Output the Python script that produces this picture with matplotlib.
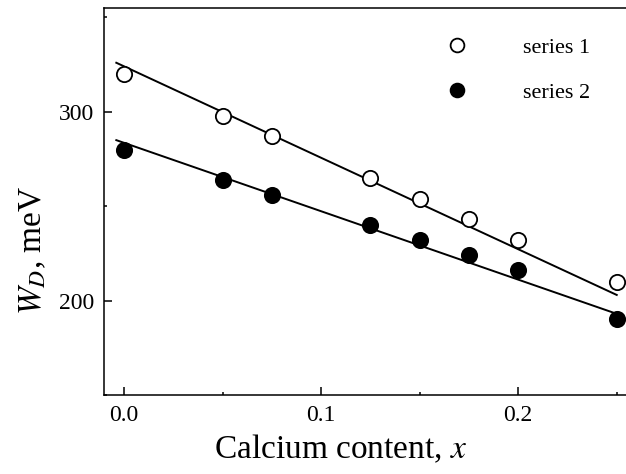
import numpy as np
import matplotlib
matplotlib.use("Agg")
import matplotlib.pyplot as plt
from matplotlib.ticker import MultipleLocator

# calcium content x
x = [0.0, 0.05, 0.075, 0.125, 0.15, 0.175, 0.2, 0.25]
# W_D, meV
series1 = [320, 298, 287, 265, 254, 243, 232, 210]
series2 = [280, 264, 256, 240, 232, 224, 216, 190]

# straight fit lines as drawn (end points)
fit_x = [-0.004, 0.25]
fit1 = [326, 203]
fit2 = [285, 193]

plt.rcParams['font.family'] = ['Liberation Serif', 'DejaVu Serif']
plt.rcParams['mathtext.fontset'] = 'stix'

fig = plt.figure(figsize=(6.26, 4.74), dpi=100)
ax = fig.add_axes([103.5 / 626, 79 / 474, 1 - 103.5 / 626, 387 / 474])

ax.plot(fit_x, fit1, color='black', lw=1.4)
ax.plot(fit_x, fit2, color='black', lw=1.4)
ax.plot(x, series1, 'o', ms=11, mfc='white', mec='black', mew=1.3,
        ls='none', label='series 1')
ax.plot(x, series2, 'o', ms=11, mfc='black', mec='black', mew=1.3,
        ls='none', label='series 2')

ax.set_xlim(-0.0105, 0.2547)
ax.set_ylim(150, 355)

ax.xaxis.set_minor_locator(MultipleLocator(0.05))
ax.yaxis.set_major_locator(MultipleLocator(100))
ax.yaxis.set_minor_locator(MultipleLocator(50))
ax.set_xticks([0.0, 0.1, 0.2])
ax.set_xticklabels(['0.0', '0.1', '0.2'])

ax.tick_params(which='both', direction='in', top=False, right=False,
               labelsize=17, width=1.1, pad=7)
ax.tick_params(which='major', length=6)
ax.tick_params(which='minor', length=2.5)

for side in ['left', 'bottom', 'top']:
    ax.spines[side].set_linewidth(1.1)
ax.spines['right'].set_visible(False)

ax.set_xlabel('Calcium content, $x$', fontsize=24)
ax.xaxis.set_label_coords(0.4545, -0.097)
ax.set_ylabel('$W_D$, meV', fontsize=24)
ax.yaxis.set_label_coords(-0.105, 0.375)

ax.legend(loc='upper left', bbox_to_anchor=(426 / 626, 1 - 17 / 474),
          bbox_transform=fig.transFigure, frameon=False, fontsize=16,
          handlelength=1.0, handletextpad=2.47, labelspacing=1.12,
          markerscale=0.9, numpoints=1)

fig.savefig('out.png', dpi=100)
